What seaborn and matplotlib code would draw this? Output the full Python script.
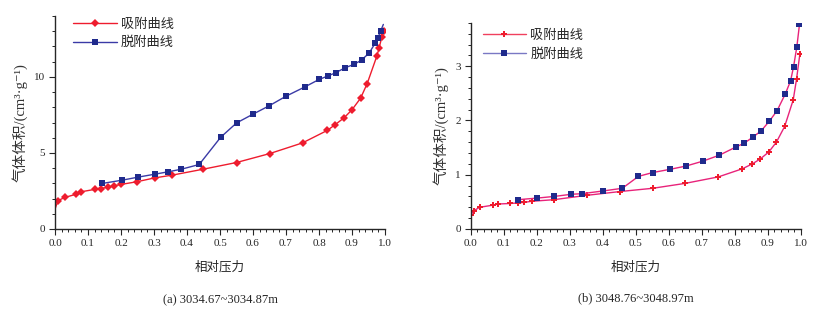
import numpy as np
import pandas as pd
import seaborn as sns
import matplotlib.pyplot as plt
from matplotlib.lines import Line2D
from matplotlib.ticker import MultipleLocator, FormatStrFormatter

# ---- 数据 (a) 3034.67~3034.87m ----
a_ads_x = [0.0, 0.009, 0.029, 0.065, 0.08, 0.12, 0.14, 0.16, 0.18, 0.20, 0.247, 0.302, 0.355,
           0.449, 0.55, 0.651, 0.75, 0.825, 0.849, 0.876, 0.90, 0.926, 0.946, 0.975, 0.982,
           0.99, 0.997]
a_ads_y = [1.31, 1.86, 2.07, 2.29, 2.45, 2.60, 2.66, 2.75, 2.84, 2.93, 3.10, 3.36, 3.54,
           3.93, 4.37, 4.96, 5.66, 6.48, 6.86, 7.31, 7.84, 8.60, 9.56, 11.35, 11.88,
           12.60, 13.03]
a_des_x = [0.142, 0.204, 0.252, 0.302, 0.343, 0.383, 0.437, 0.502, 0.55, 0.60, 0.649, 0.70,
           0.757, 0.80, 0.828, 0.851, 0.88, 0.907, 0.929, 0.952, 0.97, 0.978, 0.987, 0.995]
a_des_y = [2.99, 3.21, 3.41, 3.60, 3.76, 3.93, 4.24, 6.03, 6.97, 7.55, 8.10, 8.73,
           9.34, 9.83, 10.07, 10.28, 10.61, 10.83, 11.11, 11.57, 12.21, 12.55, 13.03, 13.45]

# ---- 数据 (b) 3048.76~3048.97m ----
b_ads_x = [0.0, 0.01, 0.027, 0.068, 0.081, 0.12, 0.142, 0.161, 0.184, 0.252, 0.351, 0.452,
           0.551, 0.649, 0.75, 0.823, 0.853, 0.877, 0.903, 0.926, 0.951, 0.977, 0.987, 0.997]
b_ads_y = [0.26, 0.34, 0.40, 0.44, 0.46, 0.47, 0.48, 0.49, 0.51, 0.54, 0.62, 0.69,
           0.75, 0.84, 0.96, 1.11, 1.20, 1.29, 1.42, 1.60, 1.89, 2.38, 2.76, 3.22]
b_des_x = [0.143, 0.202, 0.253, 0.305, 0.336, 0.40, 0.459, 0.508, 0.551, 0.604, 0.652, 0.703,
           0.753, 0.803, 0.828, 0.854, 0.88, 0.905, 0.928, 0.953, 0.969, 0.978, 0.988, 0.996]
b_des_y = [0.54, 0.57, 0.60, 0.64, 0.65, 0.70, 0.75, 0.97, 1.04, 1.10, 1.16, 1.25,
           1.36, 1.51, 1.58, 1.69, 1.81, 1.99, 2.18, 2.49, 2.73, 2.99, 3.36, 3.77]

legend_labels = ['吸附曲线', '脱附曲线']
x_label = '相对压力'
y_label = '气体体积/(cm³·g⁻¹)'
captions = ['(a) 3034.67~3034.87m', '(b) 3048.76~3048.97m']

sns.set_style('ticks')
plt.rcParams['font.family'] = ['Liberation Serif', 'Noto Sans CJK SC', 'DejaVu Sans']

RED = '#ee1c2e'
NAVY = '#1f2a8c'
BLUE_LINE = '#3a3aa6'
PINK = '#e8237a'

fig = plt.figure(figsize=(8.26, 3.09), dpi=100)
ax1 = fig.add_axes([0.0666, 0.259, 0.3995, 0.689])
ax2 = fig.add_axes([0.570, 0.259, 0.3995, 0.667])

# (a)
sns.lineplot(x=a_ads_x, y=a_ads_y, ax=ax1, sort=False, color=RED, lw=1.0,
             marker='D', markersize=4.2, markeredgewidth=0, markerfacecolor=RED,
             markevery=list(range(1, len(a_ads_x))))
sns.lineplot(x=a_des_x, y=a_des_y, ax=ax1, sort=False, color=BLUE_LINE, lw=1.0,
             marker='s', markersize=4, markeredgewidth=0, markerfacecolor=NAVY,
             markevery=list(range(0, len(a_des_x) - 1)))
ax1.set_ylim(0, 14)
ax1.yaxis.set_major_locator(MultipleLocator(5))
ax1.yaxis.set_minor_locator(MultipleLocator(1))

# (b)
sns.lineplot(x=b_ads_x, y=b_ads_y, ax=ax2, sort=False, color=PINK, lw=1.0,
             marker='P', markersize=4.5, markeredgewidth=0, markerfacecolor=RED)
sns.lineplot(x=b_des_x, y=b_des_y, ax=ax2, sort=False, color=PINK, lw=1.0,
             marker='s', markersize=4, markeredgewidth=0, markerfacecolor=NAVY)
ax2.set_ylim(0, 3.8)
ax2.yaxis.set_major_locator(MultipleLocator(1))
ax2.yaxis.set_minor_locator(MultipleLocator(0.2))

leg_styles = [
    [(RED, 'D', RED), (BLUE_LINE, 's', NAVY)],
    [('#f0405e', 'P', RED), ('#7a78c4', 's', NAVY)],
]
leg_pos = [(0.02, 1.045), (0.0, 1.025)]
for ax, styles, cap, pos in zip([ax1, ax2], leg_styles, captions, leg_pos):
    ax.set_xlim(0, 1.0)
    ax.xaxis.set_major_locator(MultipleLocator(0.1))
    ax.xaxis.set_minor_locator(MultipleLocator(0.02))
    ax.xaxis.set_major_formatter(FormatStrFormatter('%.1f'))
    ax.tick_params(which='major', direction='out', length=4, width=0.8, labelsize=8, pad=3)
    ax.tick_params(which='minor', direction='out', length=2.5, width=0.7)
    sns.despine(ax=ax)
    for s in ['left', 'bottom']:
        ax.spines[s].set_linewidth(1.0)
    ax.set_xlabel(x_label, fontsize=9, labelpad=10)
    ax.set_ylabel(y_label, fontsize=10.5, labelpad=5, color='#333333')
    handles = [Line2D([], [], color=c, lw=1.0, marker=m, markersize=4,
                      markerfacecolor=f, markeredgewidth=0) for c, m, f in styles]
    ax.legend(handles, legend_labels, loc='upper left', bbox_to_anchor=pos,
              frameon=False, fontsize=9.5, handlelength=3.3, handletextpad=0.3,
              labelspacing=0.45)
    ax.text(0.5, -0.335, cap, transform=ax.transAxes, ha='center', va='center', fontsize=9)

fig.savefig('out.png', dpi=100, facecolor='white')
